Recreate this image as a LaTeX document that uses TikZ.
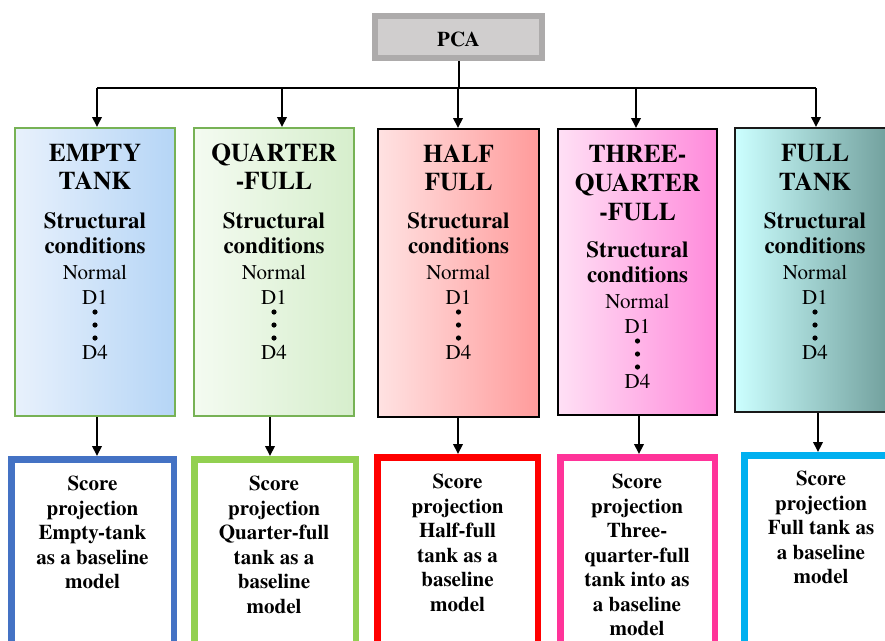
\documentclass[tikz,border=0pt]{standalone}
\usepackage{fontspec}
\IfFontExistsTF{texgyretermes-regular.otf}
  {\setmainfont{texgyretermes}[Extension=.otf, UprightFont=*-regular,
     BoldFont=*-bold, ItalicFont=*-italic, BoldItalicFont=*-bolditalic]}
  {}
\usetikzlibrary{arrows.meta}

\definecolor{pcaedge}{HTML}{ADABAB}
\definecolor{pcafill}{HTML}{D0CECE}
\definecolor{tankgreen}{HTML}{77B255}
\definecolor{emptyL}{HTML}{E8F1FC}
\definecolor{emptyR}{HTML}{B5D5F6}
\definecolor{quarterL}{HTML}{F4FBF1}
\definecolor{quarterR}{HTML}{D6EECC}
\definecolor{halfL}{HTML}{FFE2E2}
\definecolor{halfR}{HTML}{FF9B9B}
\definecolor{threeL}{HTML}{FFE0F5}
\definecolor{threeR}{HTML}{FF8ADB}
\definecolor{fullL}{HTML}{CCFFFF}
\definecolor{fullR}{HTML}{6E9C99}
\definecolor{projblue}{HTML}{4472C4}
\definecolor{projgreen}{HTML}{92D050}
\definecolor{projred}{HTML}{FF0000}
\definecolor{projpink}{HTML}{FF3399}
\definecolor{projcyan}{HTML}{00B0F0}

\tikzset{
  arr/.style={line width=2pt, -{Triangle[length=10pt,width=9.5pt]}},
  busline/.style={line width=2pt},
  pcabox/.style={rectangle, draw=pcaedge, fill=pcafill, line width=6pt,
    minimum width=167pt, minimum height=42pt, inner sep=0pt},
  pcatext/.style={font=\fontsize{21}{24}\selectfont\bfseries, anchor=base, inner sep=0pt},
  tank/.style={rectangle, line width=2pt, minimum height=288pt,
    anchor=north west, inner sep=0pt},
  proj/.style={rectangle, line width=6.5pt, fill=white, minimum height=260pt,
    anchor=north west, inner sep=0pt},
  ttl/.style={font=\fontsize{25.5}{28.5}\selectfont\bfseries, anchor=base, inner sep=0pt},
  hd/.style={font=\fontsize{23}{25}\selectfont\bfseries, anchor=base, inner sep=0pt},
  lv/.style={font=\fontsize{21}{25}\selectfont, anchor=base, inner sep=0pt},
  ptxt/.style={font=\fontsize{21}{24.5}\selectfont\bfseries, align=center,
    anchor=north, inner sep=0pt},
}

% Structural-condition list inside a tank box:
% #1 = box name, #2 = baseline of "Structural" below the box top
\newcommand\condstack[2]{%
  \path (#1.north) ++(0,#2) node[hd] (#1s) {Structural}
    ++(0,25) node[hd] (#1c) {conditions}
    ++(0,26) node[lv] (#1n) {Normal}
    ++(0,25) node[lv] (#1d) {D1}
    ++(0,8) coordinate (#1p)
    ++(0,47) node[lv] (#1e) {D4};
  \foreach \k in {0,13,26} \fill ([yshift=-\k pt]#1p) circle (2.6pt);
}

\begin{document}
\begin{tikzpicture}[x=1pt,y=-1pt]
\useasboundingbox (0,0) rectangle (885,640);
\clip (0,0) rectangle (885,640);

% root
\node[pcabox] (pca) at (458.5,37) {};
\node[pcatext] (pcat) at (458.5,46.7) {PCA};

% tank-level boxes
\node[tank, draw=tankgreen, left color=emptyL, right color=emptyR, minimum width=160pt] (t1) at (14,127) {};
\node[tank, draw=tankgreen, left color=quarterL, right color=quarterR, minimum width=160pt] (t2) at (193,127) {};
\node[tank, draw=black, left color=halfL, right color=halfR, minimum width=161pt] (t3) at (377,128) {};
\node[tank, draw=black, left color=threeL, right color=threeR, minimum width=159pt, minimum height=286pt] (t4) at (557,128) {};
\node[tank, draw=black!90, left color=fullL, right color=fullR, minimum width=160pt, minimum height=284pt] (t5) at (734,127) {};

% titles
\path (t1.north) ++(0,34) node[ttl] (t1a) {EMPTY} ++(0,28.5) node[ttl] (t1b) {TANK};
\path (t2.north) ++(0,34) node[ttl] (t2a) {QUARTER} ++(0,28.5) node[ttl] (t2b) {-FULL};
\path (t3.north) ++(0,34) node[ttl] (t3a) {HALF} ++(0,28.5) node[ttl] (t3b) {FULL};
\path (t4.north) ++(0,34) node[ttl] (t4a) {THREE-} ++(0,29) node[ttl] (t4b) {QUARTER}
  ++(0,29) node[ttl] (t4c) {-FULL};
\path (t5.north) ++(0,34.5) node[ttl] (t5a) {FULL} ++(0,28.5) node[ttl] (t5b) {TANK};

\condstack{t1}{101}
\condstack{t2}{101}
\condstack{t3}{100}
\condstack{t4}{129}
\condstack{t5}{101}

% projection boxes
\node[proj, draw=projblue, minimum width=162.5pt] (b1) at (8,456) {};
\node[proj, draw=projgreen, minimum width=161.5pt] (b2) at (191,456) {};
\node[proj, draw=projred, minimum width=160.5pt] (b3) at (374,454) {};
\node[proj, draw=projpink, minimum width=154.5pt] (b4) at (557,454) {};
\node[proj, draw=projcyan, minimum width=160pt] (b5) at (741,452) {};

\node[ptxt] (b1t) at (92.5,476) {Score\\projection\\Empty-tank\\as a baseline\\model};
\node[ptxt] (b2t) at (274,476) {Score\\projection\\Quarter-full\\tank as a\\baseline\\model};
\node[ptxt] (b3t) at (457.5,474) {Score\\projection\\Half-full\\tank as a\\baseline\\model};
\node[ptxt] (b4t) at (637,474) {Score\\projection\\Three-\\quarter-full\\tank into as\\a baseline\\model};
\node[ptxt] (b5t) at (821,471) {Score\\projection\\Full tank as\\a baseline\\model};

% distribution bus from the root
\coordinate (hub) at (458.5,88);
\coordinate (d1) at (97,88);
\coordinate (d2) at (282,88);
\coordinate (d3) at (458,88);
\coordinate (d4) at (636,88);
\coordinate (d5) at (816,88);
\draw[busline] (pca.south) -- (hub);
\draw[busline] (d1) -- (d5);
\draw[arr] (d1) -- (d1 |- t1.north);
\draw[arr] (d2) -- (d2 |- t2.north);
\draw[arr] (d3) -- (d3 |- t3.north);
\draw[arr] (d4) -- (d4 |- t4.north);
\draw[arr] (d5) -- (d5 |- t5.north);

% tank box to projection box
\draw[arr] ([xshift=2pt]t1.south) -- ([xshift=2pt]t1.south |- b1.north);
\draw[arr] ([xshift=-4pt]t2.south) -- ([xshift=-4pt]t2.south |- b2.north);
\draw[arr] ([xshift=-0.5pt]t3.south) -- ([xshift=-0.5pt]t3.south |- b3.north);
\draw[arr] ([xshift=1.5pt]t4.south) -- ([xshift=1.5pt]t4.south |- b4.north);
\draw[arr] ([xshift=3pt]t5.south) -- ([xshift=3pt]t5.south |- b5.north);
\end{tikzpicture}
\end{document}
